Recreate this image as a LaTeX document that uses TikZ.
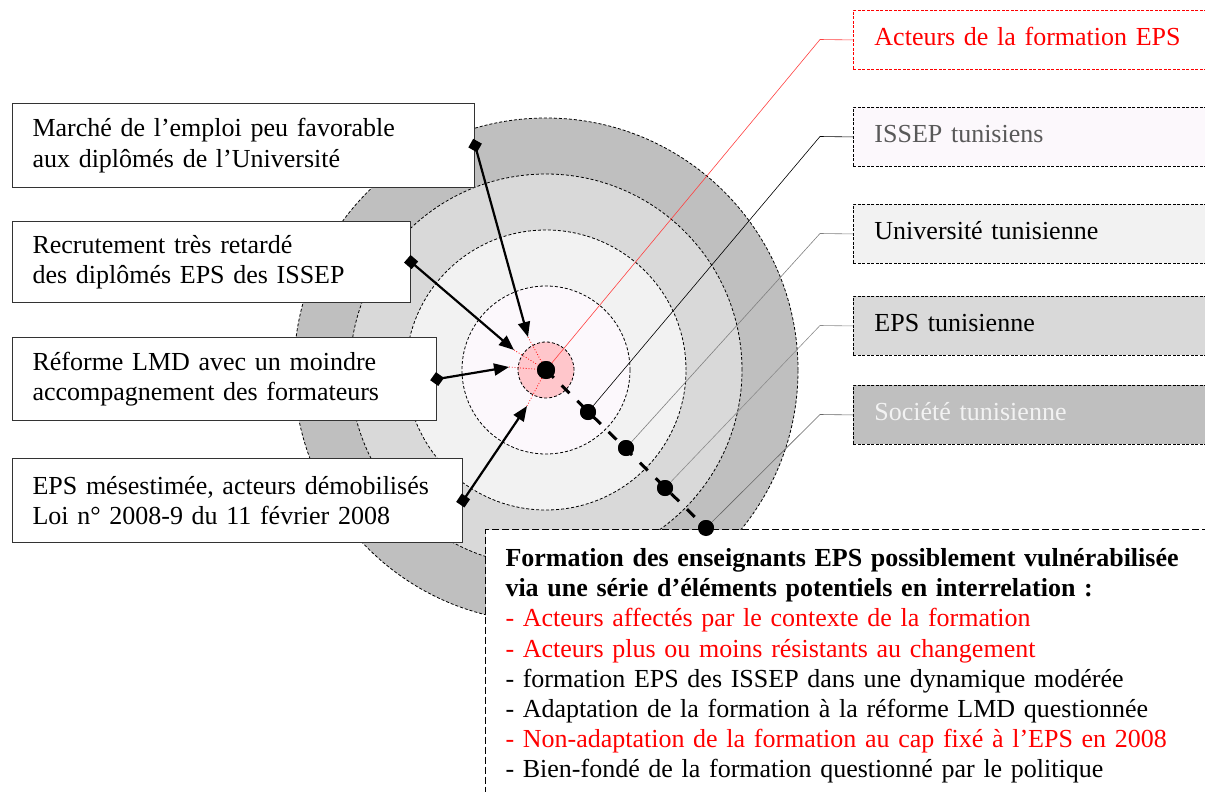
\documentclass[tikz,border=0pt]{standalone}
\usepackage{fontspec}
\setmainfont{Liberation Serif}
\usetikzlibrary{arrows.meta}
\definecolor{ringA}{HTML}{BFBFBF}
\definecolor{ringB}{HTML}{D9D9D9}
\definecolor{ringC}{HTML}{F2F2F2}
\definecolor{ringD}{HTML}{FCF8FC}
\definecolor{ringE}{HTML}{FFC6CB}
\definecolor{redtxt}{HTML}{FF0000}
\definecolor{greytxt}{HTML}{595959}
\definecolor{softtxt}{HTML}{F2F2F2}
\begin{document}
\begin{tikzpicture}[x=1pt,y=-1pt,
  font=\fontsize{26}{30.2}\selectfont,
  ring/.style={draw=black, dash pattern=on 3pt off 2pt, line width=0.8pt},
  lbox/.style={draw=black!80, line width=1.1pt, fill=white, anchor=north west,
    inner xsep=20pt, inner ysep=0pt, align=left},
  rbox/.style={draw=black, dash pattern=on 3pt off 1.5pt, line width=0.9pt, anchor=north west,
    inner xsep=21pt, inner ysep=0pt, text width=380pt, text height=18pt, text depth=7pt,
    minimum height=59pt, align=left},
  leader/.style={line width=0.6pt},
  tipline/.style={draw=red, dotted, line width=0.8pt},
  arr/.style={line width=2.2pt, -{Triangle[length=15pt,width=12pt]}},
  dia/.style={arr, {Turned Square[length=14pt,width=14pt]}-{Triangle[length=15pt,width=12pt]}, shorten <=-7pt},
  sqr/.style={arr, {Square[length=10pt,width=10pt]}-{Triangle[length=15pt,width=12pt]}, shorten <=-5pt},
  dot/.style={circle, fill=black, inner sep=0pt, minimum size=16pt},
  dashline/.style={line width=3pt, dash pattern=on 11pt off 11pt}
]
\useasboundingbox (0,0) rectangle (1205,792);
\clip (0,0) rectangle (1205,792);

% rings
\coordinate (ctr) at (546,370);
\filldraw[ring, fill=ringA] (ctr) circle[radius=252pt];
\filldraw[ring, fill=ringB] (ctr) circle[radius=196pt];
\filldraw[ring, fill=ringC] (ctr) circle[radius=140pt];
\filldraw[ring, fill=ringD] (ctr) circle[radius=84pt];
\filldraw[ring, fill=ringE] (ctr) circle[radius=28pt];

% dots
\node[dot, minimum size=18pt] (c) at (546,370) {};
\node[dot] (d1) at (588,412) {};
\node[dot] (d2) at (626,448) {};
\node[dot] (d3) at (665,488) {};
\node[dot] (d4) at (706,528) {};

% right labels
\node[rbox, draw=red, fill=white, text=redtxt] (l0) at (853,10) {Acteurs de la formation EPS};
\node[rbox, fill=ringD, text=greytxt] (l1) at (853,107) {ISSEP tunisiens};
\node[rbox, fill=ringC] (l2) at (853,204) {Université tunisienne};
\node[rbox, fill=ringB] (l3) at (853,296) {EPS tunisienne};
\node[rbox, fill=ringA, text=softtxt] (l4) at (853,385) {Société tunisienne};

\coordinate (e0) at (820,39.5);
\coordinate (e1) at (820,136.5);
\coordinate (e2) at (820,233.5);
\coordinate (e3) at (820,325.5);
\coordinate (e4) at (820,414.5);

\draw[leader, red!75] (c.center) -- (e0) -- (l0.west);
\draw[leader, black] (d1) -- (e1) -- (l1.west);
\draw[leader, black!50] (d2) -- (e2) -- (l2.west);
\draw[leader, black!45] (d3) -- (e3) -- (l3.west);
\draw[leader, black!60] (d4) -- (e4) -- (l4.west);

% arrow tips
\coordinate (t1) at (528,337);
\coordinate (t2) at (514,350);
\coordinate (t3) at (509,367);
\coordinate (t4) at (527,406);
\draw[tipline] (t1) -- (c.center);
\draw[tipline] (t2) -- (c.center);
\draw[tipline] (t3) -- (c.center);
\draw[tipline] (t4) -- (c.center);

% left boxes
\node[lbox, text width=422pt, minimum height=84pt] (m1) at (12,103) {Marché de l’emploi peu favorable\\aux diplômés de l’Université};
\node[lbox, text width=358pt, minimum height=81pt] (m2) at (12,221) {Recrutement très retardé\\des diplômés EPS des ISSEP};
\node[lbox, text width=384pt, minimum height=83pt] (m3) at (12,337) {Réforme LMD avec un moindre\\accompagnement des formateurs};
\node[lbox, text width=410pt, minimum height=84pt] (m4) at (12,458) {EPS mésestimée, acteurs démobilisés\\Loi n° 2008-9 du 11 février 2008};

\draw[dia] (m1.east) -- (t1);
\draw[sqr] (m2.east) -- (t2);
\draw[dia] (m3.east) -- (t3);
\draw[sqr] (m4.east) -- (t4);

% bottom box
\node[draw=black, dash pattern=on 7pt off 3pt, line width=1pt, fill=white, anchor=north west,
  inner xsep=20pt, inner ysep=19pt, text width=760pt, align=left] (bx) at (485,529)
  {\textbf{Formation des enseignants EPS possiblement vulnérabilisée}\\
   \textbf{via une série d’éléments potentiels en interrelation :}\\
   \textcolor{redtxt}{- Acteurs affectés par le contexte de la formation}\\
   \textcolor{redtxt}{- Acteurs plus ou moins résistants au changement}\\
   - formation EPS des ISSEP dans une dynamique modérée\\
   - Adaptation de la formation à la réforme LMD questionnée\\
   \textcolor{redtxt}{- Non-adaptation de la formation au cap fixé à l’EPS en 2008}\\
   - Bien-fondé de la formation questionné par le politique};

% dashed spine and dots on top
\draw[dashline] (c.center) -- (d4.center);
\node[dot, minimum size=18pt] at (c) {};
\node[dot] at (d1) {};
\node[dot] at (d2) {};
\node[dot] at (d3) {};
\node[dot] at (d4) {};
\end{tikzpicture}
\end{document}
